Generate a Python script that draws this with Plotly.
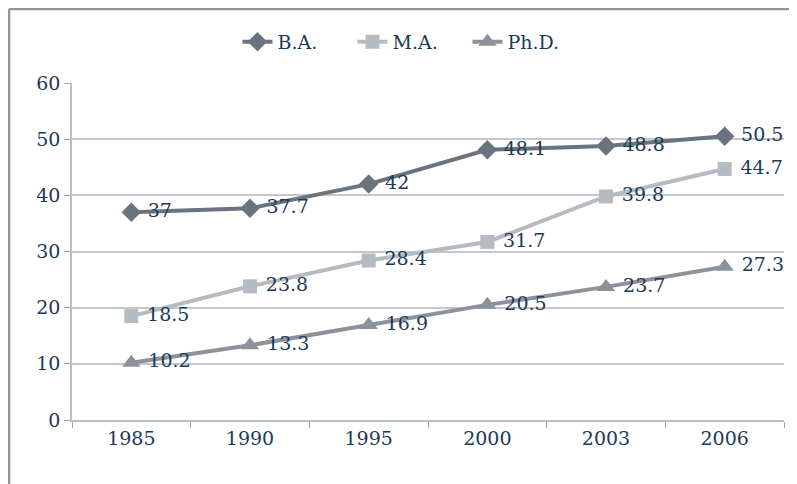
import plotly.graph_objects as go

years = ["1985", "1990", "1995", "2000", "2003", "2006"]
ba = [37, 37.7, 42, 48.1, 48.8, 50.5]
ma = [18.5, 23.8, 28.4, 31.7, 39.8, 44.7]
phd = [10.2, 13.3, 16.9, 20.5, 23.7, 27.3]
y_ticks = [0, 10, 20, 30, 40, 50, 60]

FONT = "DejaVu Serif, Liberation Serif, serif"
TXT = "#1b3a57"
FS = 19

series = [
    ("B.A.", ba, "#6a747e", "diamond", 15),
    ("M.A.", ma, "#b5bbc2", "square", 14),
    ("Ph.D.", phd, "#8a939b", "triangle-up", 16),
]

fig = go.Figure()
for name, vals, col, sym, size in series:
    fig.add_trace(go.Scatter(
        x=years, y=vals, name=name, mode="lines+markers+text",
        line=dict(color=col, width=4),
        marker=dict(symbol=sym, size=size, color=col),
        text=[" " + str(v) for v in vals], textposition="middle right",
        textfont=dict(family=FONT, size=FS, color=TXT),
        cliponaxis=False,
    ))

# page body has an 8px margin; figure sized to fit the 797x484 window
OFF = 8
W, H = 797 - OFF, 484 - OFF
L, R, T, B = 72 - OFF, 13, 83 - OFF, 64
pw, ph = W - L - R, H - T - B
bx = (1 - L) / pw
by = 1 + (T - 1) / ph
ly = 1 + (T - (42 - OFF)) / ph
lx = ((410 - OFF) - L) / pw

fig.update_layout(
    width=W, height=H,
    margin=dict(l=L, r=R, t=T, b=B, autoexpand=False),
    paper_bgcolor="white", plot_bgcolor="white",
    font=dict(family=FONT, size=FS, color=TXT),
    showlegend=True,
    legend=dict(orientation="h", x=lx, xanchor="center", y=ly, yanchor="middle",
                bgcolor="rgba(0,0,0,0)", tracegroupgap=0, entrywidth=70,
                font=dict(family=FONT, size=FS, color=TXT), itemwidth=30),
    xaxis=dict(type="category", range=[-0.5, 5.5], showgrid=False, showline=True,
               linecolor="#b8bec6", linewidth=1.5,
               ticks="outside", tickson="boundaries", ticklen=6, tickcolor="#9aa2aa",
               tickfont=dict(family=FONT, size=FS, color=TXT)),
    yaxis=dict(range=[0, 60], tickvals=y_ticks, showgrid=True, gridcolor="#c3c8ce", gridwidth=1.5,
               showline=True, linecolor="#b8bec6", linewidth=1.5, zeroline=False,
               ticks="outside", ticklen=6, tickcolor="#9aa2aa",
               tickfont=dict(family=FONT, size=FS, color=TXT)),
    shapes=[
        dict(type="line", xref="paper", yref="paper", x0=bx, x1=bx, y0=-0.5, y1=by,
             line=dict(color="#8e959c", width=2.5)),
        dict(type="line", xref="paper", yref="paper", x0=bx, x1=1.2, y0=by, y1=by,
             line=dict(color="#8e959c", width=2.5)),
    ],
)

fig.write_html("out.html")
